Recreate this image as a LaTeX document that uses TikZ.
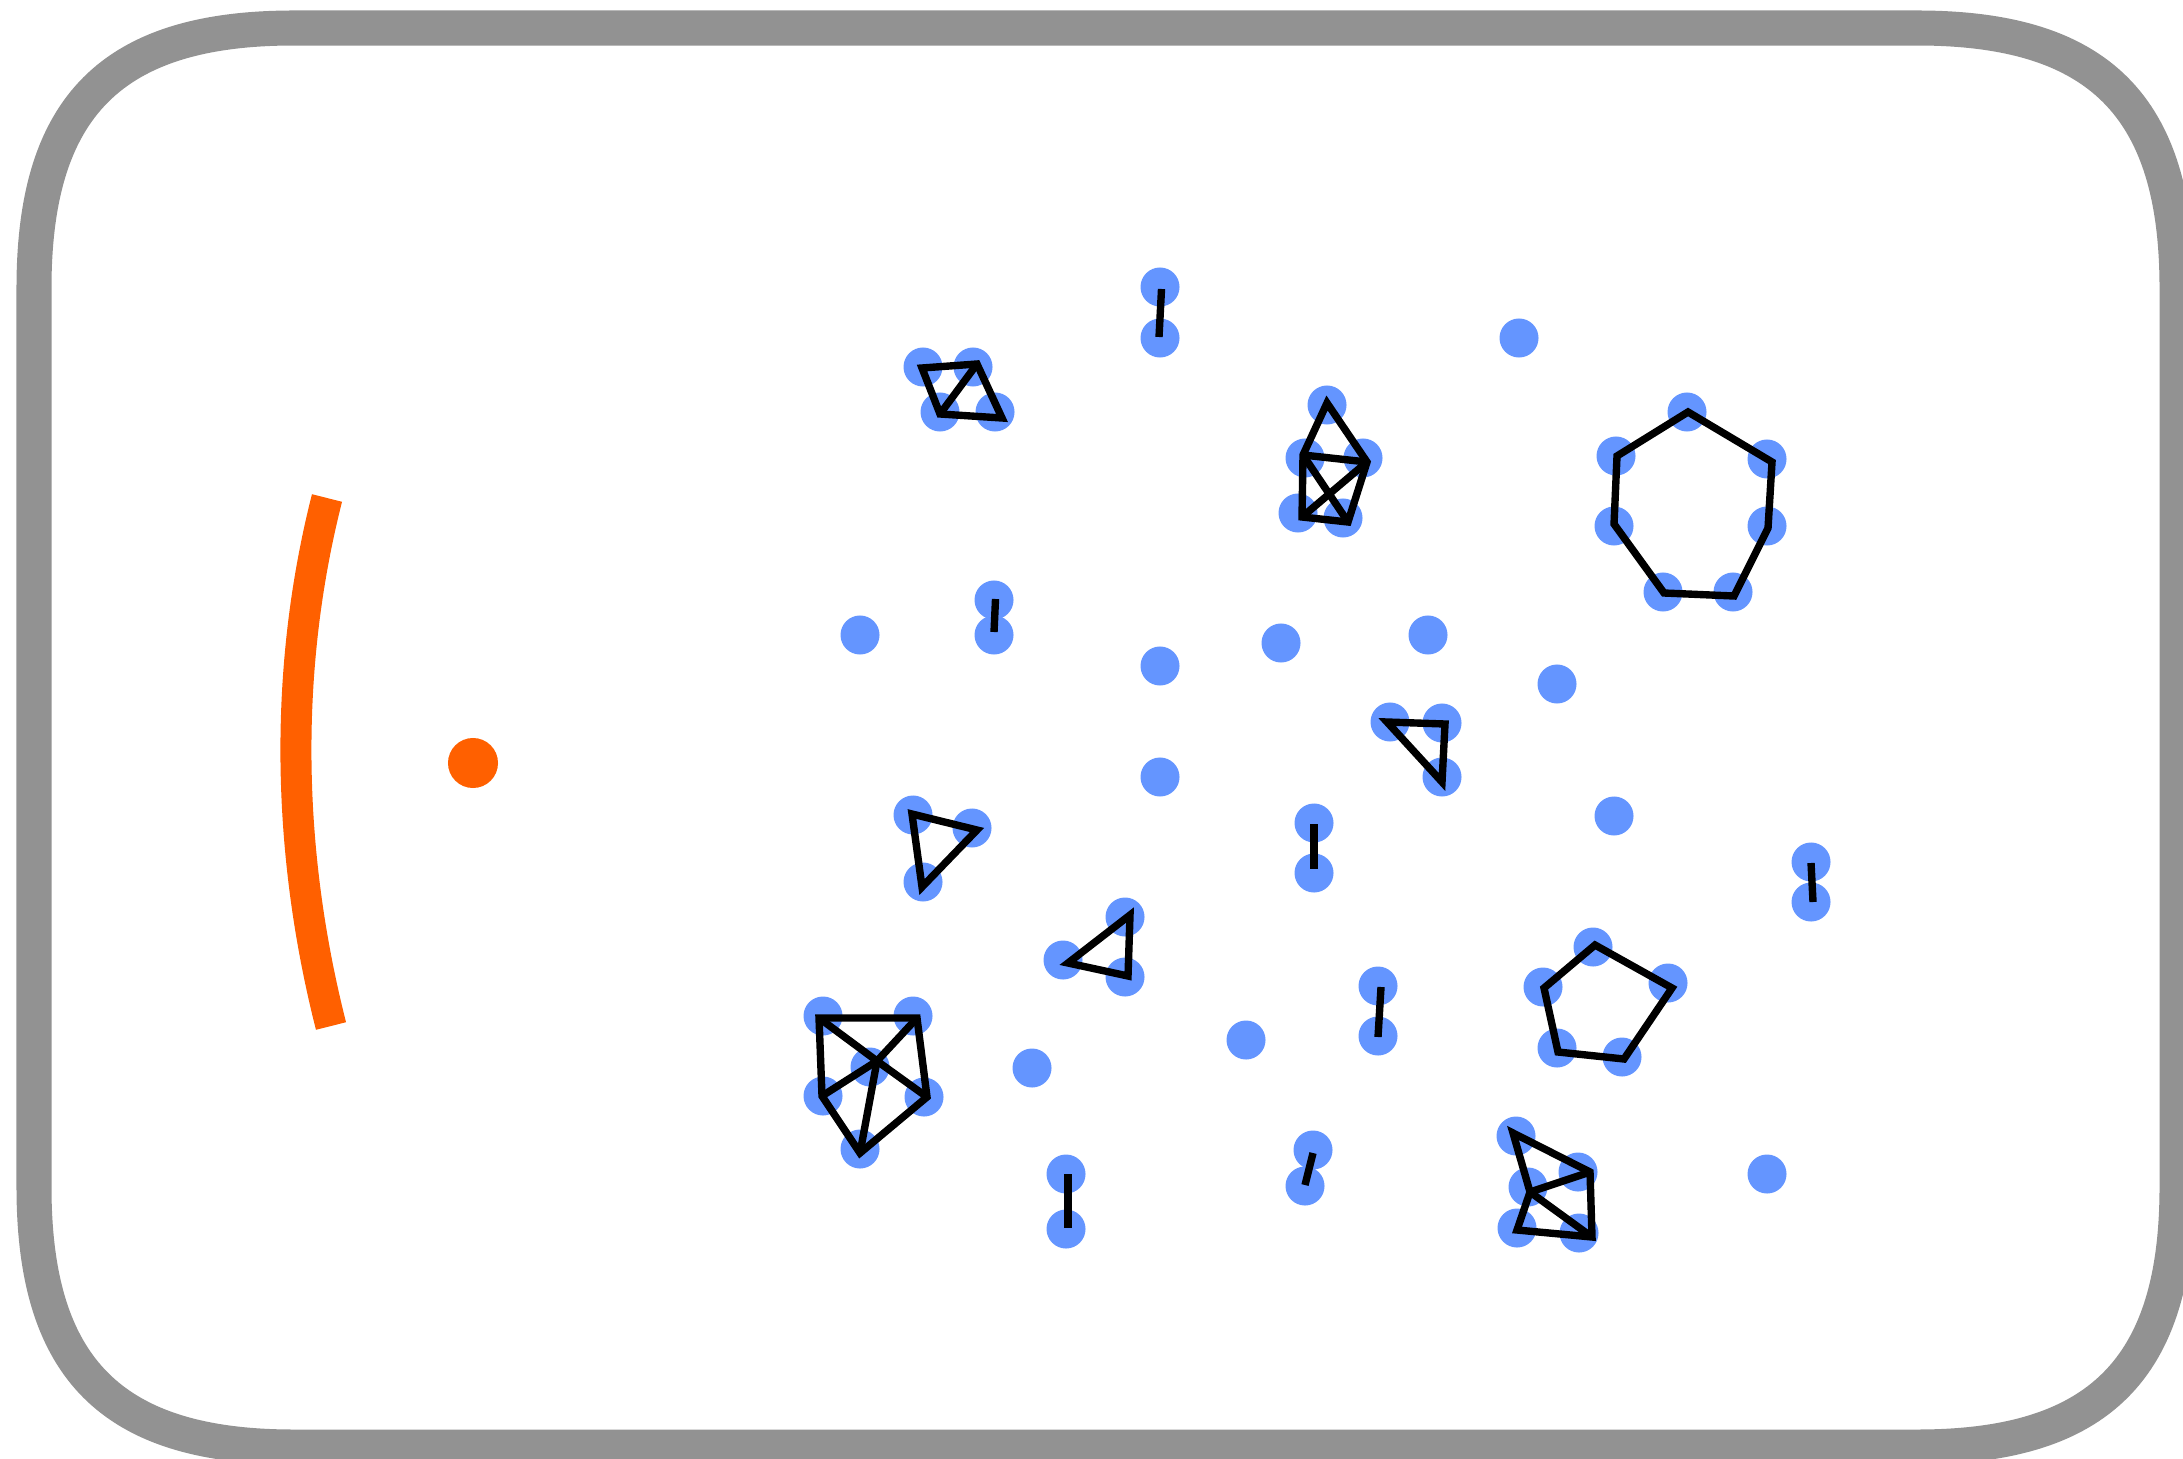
\documentclass[tikz,border=0pt]{standalone}
\usepackage{xcolor}
\usepackage{tikz}
\usetikzlibrary{positioning, calc}
\definecolor{dotblue}{RGB}{100, 149, 255}
\definecolor{arcorange}{RGB}{255, 96, 0}
\definecolor{framegray}{RGB}{146, 146, 146}

\tikzset{
    dot/.style={circle, fill=dotblue, inner sep=0pt, minimum size=3.9mm},
    link/.style={black, line width=2.1pt},
    frame/.style={framegray, line width=0.35cm}
}

\begin{document}
\begin{tikzpicture}[x=0.01cm, y=-0.01cm]
    \useasboundingbox (0,0) rectangle (2183,1458);
    % Outer frame (soft corners)
    \draw[frame] (294,28) -- (1917,28)
        .. controls (2099,28) and (2177,106) .. (2177,288) -- (2177,1187)
        .. controls (2177,1369) and (2099,1447) .. (1917,1447) -- (294,1447)
        .. controls (112,1447) and (34,1369) .. (34,1187) -- (34,288)
        .. controls (34,106) and (112,28) .. (294,28) -- cycle;

    % Arc and source point
    \coordinate (arctop) at (327,498);
    \coordinate (arcbot) at (331,1026);
    \draw[arcorange, line width=0.31cm] (arctop) .. controls (283,671) and (287,853) .. (arcbot);
    \node[circle, fill=arcorange, inner sep=0pt, minimum size=5mm] (src) at (473,763) {};

    % Single points
    \node[dot] (s1) at (1519,338) {};
    \node[dot] (s2) at (860,635) {};
    \node[dot] (s3) at (1160,666) {};
    \node[dot] (s4) at (1281,643) {};
    \node[dot] (s5) at (1428,635) {};
    \node[dot] (s6) at (1557,684) {};
    \node[dot] (s7) at (1160,777) {};
    \node[dot] (s8) at (1614,816) {};
    \node[dot] (s9) at (1032,1068) {};
    \node[dot] (s10) at (1246,1040) {};
    \node[dot] (s11) at (1767,1174) {};

    % Pairs
    \node[dot] (p1a) at (1160,287) {};
    \node[dot] (p1b) at (1160,338) {};
    \node[dot] (p2a) at (994,600) {};
    \node[dot] (p2b) at (994,635) {};
    \node[dot] (p3a) at (1314,823) {};
    \node[dot] (p3b) at (1314,873) {};
    \node[dot] (p4a) at (1811,862) {};
    \node[dot] (p4b) at (1811,902) {};
    \node[dot] (p5a) at (1378,986) {};
    \node[dot] (p5b) at (1378,1036) {};
    \node[dot] (p6a) at (1066,1174) {};
    \node[dot] (p6b) at (1066,1229) {};
    \node[dot] (p7a) at (1313,1150) {};
    \node[dot] (p7b) at (1305,1186) {};
    \draw[link] ($(p1a.center)+(1.5,2)$) -- ($(p1b.center)+(-1,-1)$);
    \draw[link] ($(p2a.center)+(1.5,-1)$) -- ($(p2b.center)+(0,-3)$);
    \draw[link] ($(p3a.center)+(0,1)$) -- ($(p3b.center)+(0,-4)$);
    \draw[link] ($(p4a.center)+(0,1)$) -- ($(p4b.center)+(2,0)$);
    \draw[link] ($(p5a.center)+(3,1)$) -- ($(p5b.center)+(0,1)$);
    \draw[link] ($(p6a.center)+(2,0)$) -- ($(p6b.center)+(2,-1)$);
    \draw[link] ($(p7a.center)+(0,3)$) -- ($(p7b.center)+(0,-1)$);

    % Cluster A
    \node[dot] at (923,367) {};
    \node[dot] at (973,367) {};
    \node[dot] at (940,412) {};
    \node[dot] at (995,412) {};
    \coordinate (a1) at (922,368);
    \coordinate (a2) at (977,364);
    \coordinate (a3) at (1002,418);
    \coordinate (a4) at (940,414);
    \draw[link] (a1) -- (a2) -- (a3) -- (a4) -- cycle;
    \draw[link] (a4) -- (a2);

    % Cluster B
    \node[dot] at (1327,405) {};
    \node[dot] at (1305,458) {};
    \node[dot] at (1363,458) {};
    \node[dot] at (1298,513) {};
    \node[dot] at (1343,518) {};
    \coordinate (b1) at (1327,403);
    \coordinate (b2) at (1303,455);
    \coordinate (b3) at (1367,462);
    \coordinate (b4) at (1302,517);
    \coordinate (b5) at (1348,522);
    \draw[link] (b2) -- (b1) -- (b3) -- (b5) -- (b4) -- cycle;
    \draw[link] (b2) -- (b3);
    \draw[link] (b2) -- (b5);
    \draw[link] (b3) -- (b4);

    % Cluster C (seven points)
    \node[dot] at (1687,412) {};
    \node[dot] at (1616,456) {};
    \node[dot] at (1767,459) {};
    \node[dot] at (1614,526) {};
    \node[dot] at (1767,526) {};
    \node[dot] at (1663,592) {};
    \node[dot] at (1733,592) {};
    \coordinate (c1) at (1688,412);
    \coordinate (c2) at (1772,462);
    \coordinate (c3) at (1768,528);
    \coordinate (c4) at (1734,596);
    \coordinate (c5) at (1664,593);
    \coordinate (c6) at (1614,524);
    \coordinate (c7) at (1617,456);
    \draw[link] (c1) -- (c2) -- (c3) -- (c4) -- (c5) -- (c6) -- (c7) -- cycle;

    % Triangles
    \node[dot] at (1390,722) {};
    \node[dot] at (1442,723) {};
    \node[dot] at (1442,777) {};
    \coordinate (d1) at (1387,722);
    \coordinate (d2) at (1445,724);
    \coordinate (d3) at (1442,782);
    \draw[link] (d1) -- (d2) -- (d3) -- cycle;

    \node[dot] at (913,815) {};
    \node[dot] at (972,828) {};
    \node[dot] at (923,882) {};
    \coordinate (e1) at (912,814);
    \coordinate (e2) at (977,830);
    \coordinate (e3) at (922,887);
    \draw[link] (e1) -- (e2) -- (e3) -- cycle;

    \node[dot] at (1125,917) {};
    \node[dot] at (1063,960) {};
    \node[dot] at (1125,977) {};
    \coordinate (f1) at (1130,915);
    \coordinate (f2) at (1068,963);
    \coordinate (f3) at (1128,976);
    \draw[link] (f1) -- (f2) -- (f3) -- cycle;

    % Cluster G (five points)
    \node[dot] at (1593,947) {};
    \node[dot] at (1543,987) {};
    \node[dot] at (1668,983) {};
    \node[dot] at (1557,1048) {};
    \node[dot] at (1622,1057) {};
    \coordinate (g1) at (1595,945);
    \coordinate (g2) at (1672,988);
    \coordinate (g3) at (1624,1059);
    \coordinate (g4) at (1558,1052);
    \coordinate (g5) at (1544,988);
    \draw[link] (g1) -- (g2) -- (g3) -- (g4) -- (g5) -- cycle;

    % Cluster H
    \node[dot] at (823,1016) {};
    \node[dot] at (913,1016) {};
    \node[dot] at (870,1067) {};
    \node[dot] at (823,1096) {};
    \node[dot] at (924,1097) {};
    \node[dot] at (860,1149) {};
    \coordinate (h1) at (819,1018);
    \coordinate (h2) at (917,1018);
    \coordinate (h3) at (927,1097);
    \coordinate (h4) at (860,1153);
    \coordinate (h5) at (822,1096);
    \coordinate (hc) at (877,1061);
    \draw[link] (h1) -- (h2) -- (h3) -- (h4) -- (h5) -- cycle;
    \draw[link] (h1) -- (hc) -- (h3);
    \draw[link] (h2) -- (hc) -- (h5);
    \draw[link] (hc) -- (h4);

    % Cluster I
    \node[dot] at (1516,1136) {};
    \node[dot] at (1578,1172) {};
    \node[dot] at (1528,1187) {};
    \node[dot] at (1517,1228) {};
    \node[dot] at (1579,1233) {};
    \coordinate (i1) at (1513,1133);
    \coordinate (i2) at (1590,1172);
    \coordinate (i3) at (1530,1192);
    \coordinate (i4) at (1517,1230);
    \coordinate (i5) at (1592,1237);
    \draw[link] (i1) -- (i2) -- (i5) -- (i4) -- (i3) -- cycle;
    \draw[link] (i3) -- (i2);
    \draw[link] (i3) -- (i5);
\end{tikzpicture}
\end{document}
